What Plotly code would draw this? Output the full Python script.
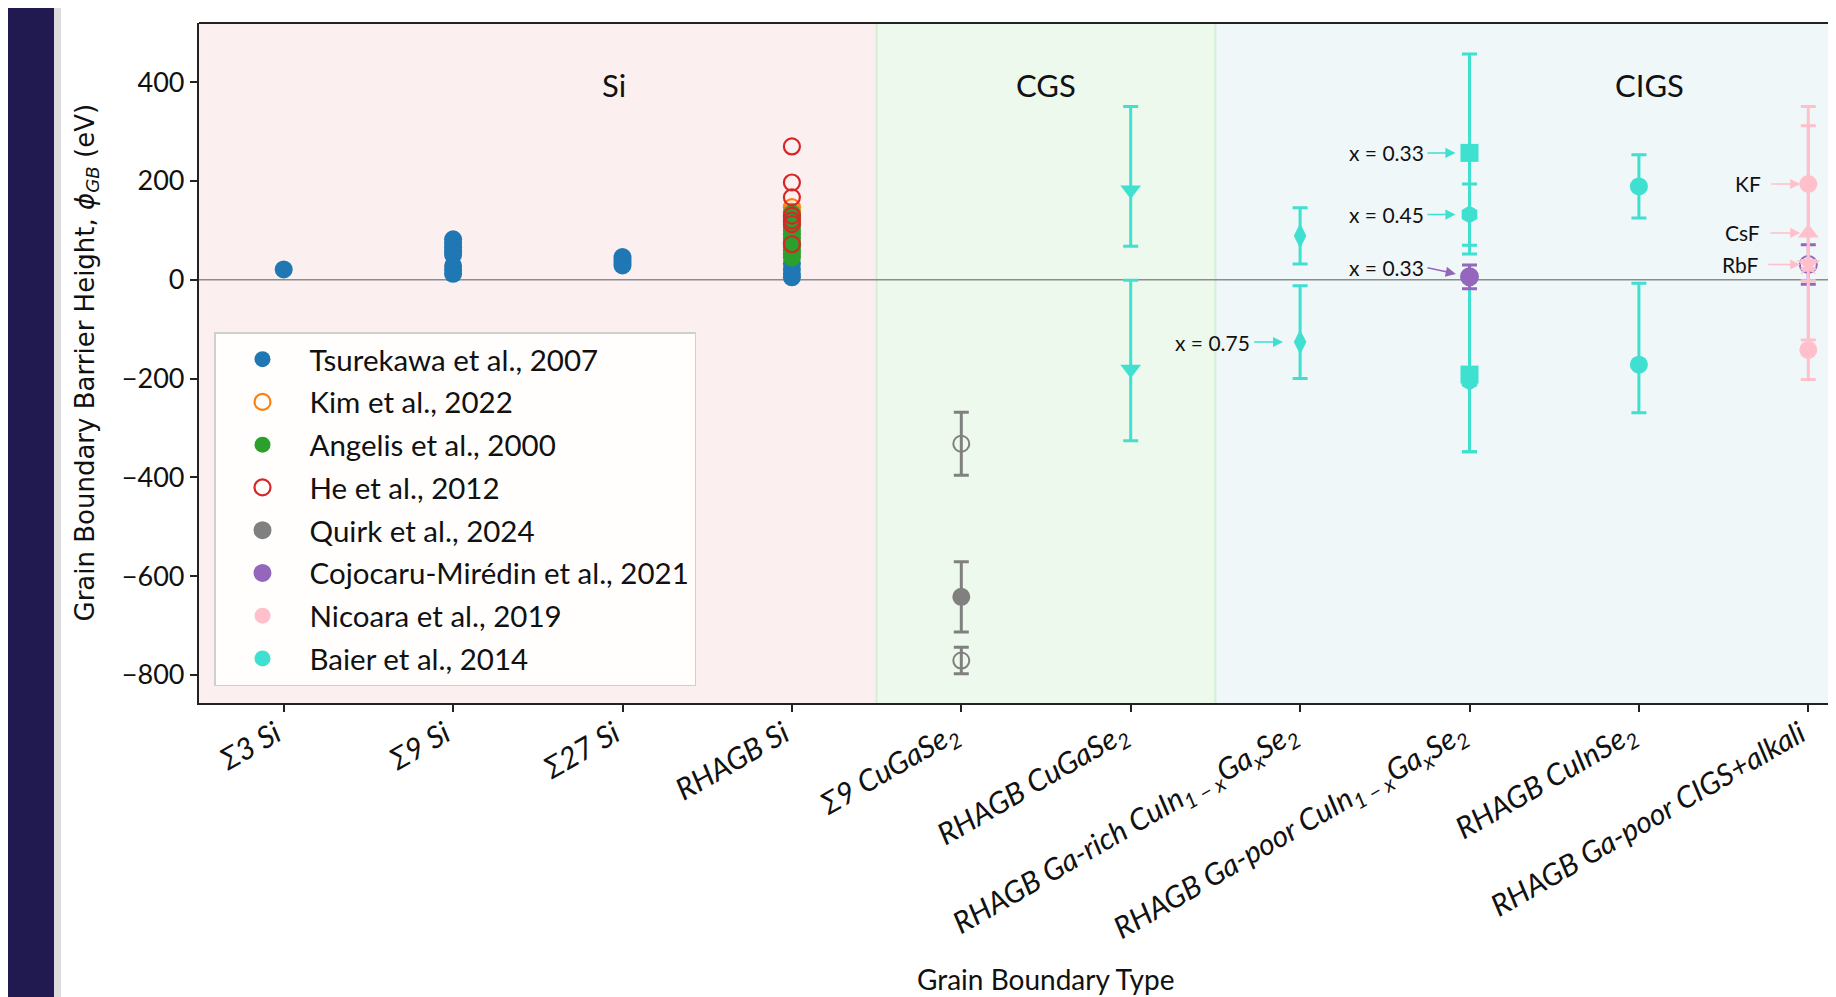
import plotly.graph_objects as go

# ---------------- data ----------------
categories = ["Σ3 Si", "Σ9 Si", "Σ27 Si", "RHAGB Si", "Σ9 CuGaSe2", "RHAGB CuGaSe2",
              "RHAGB Ga-rich CIGS", "RHAGB Ga-poor CIGS", "RHAGB CuInSe2",
              "RHAGB Ga-poor CIGS+alkali"]
tick_labels = ["Σ3 Si", "Σ9 Si", "Σ27 Si", "RHAGB Si", "Σ9 CuGaSe<sub>2</sub>",
               "RHAGB CuGaSe<sub>2</sub>",
               "RHAGB Ga-rich CuIn<sub>1 − x</sub>Ga<sub>x</sub>Se<sub>2</sub>",
               "RHAGB Ga-poor CuIn<sub>1 − x</sub>Ga<sub>x</sub>Se<sub>2</sub>",
               "RHAGB CuInSe<sub>2</sub>", "RHAGB Ga-poor CIGS+alkali"]
y_ticks = [-800, -600, -400, -200, 0, 200, 400]

tsurekawa_cat = ["Σ3 Si"] + ["Σ9 Si"] * 8 + ["Σ27 Si"] * 4 + ["RHAGB Si"] * 4
tsurekawa_val = [21, 82, 75, 66, 58, 50, 28, 20, 12, 46, 40, 34, 29, 33, 22, 12, 5]

kim_cat = ["RHAGB Si"] * 3
kim_val = [147, 138, 128]

angelis_cat = ["RHAGB Si"] * 12
angelis_val = [134, 126, 117, 108, 100, 92, 84, 76, 68, 60, 52, 45]

he_cat = ["RHAGB Si"] * 7
he_val = [270, 197, 167, 130, 120, 113, 72]

quirk_cat = ["Σ9 CuGaSe2"] * 3
quirk_val = [-642, -332, -771]
quirk_err = [71, 64, 27]
quirk_sym = ["circle", "circle-open", "circle-open"]

cojo_cat = ["RHAGB Ga-poor CIGS", "RHAGB Ga-poor CIGS+alkali"]
cojo_val = [6, 31]
cojo_err = [24, 40]
cojo_sym = ["circle", "circle-open"]

nicoara_cat = ["RHAGB Ga-poor CIGS+alkali"] * 4
nicoara_val = [194, 95, 31, -142]
nicoara_err_plus = [157, 217, 8, 140]
nicoara_err_minus = [157, 217, 8, 60]
nicoara_sym = ["circle", "triangle-up", "star", "circle"]

baier_cat = ["RHAGB CuInSe2", "RHAGB CuInSe2", "RHAGB CuGaSe2", "RHAGB CuGaSe2",
             "RHAGB Ga-rich CIGS", "RHAGB Ga-rich CIGS", "RHAGB Ga-poor CIGS",
             "RHAGB Ga-poor CIGS", "RHAGB Ga-poor CIGS", "RHAGB Ga-poor CIGS"]
baier_val = [189, -172, 182, -181, 89, -126, 257, 132, -192, -206]
baier_err_plus = [64, 165, 169, 180, 57, 114, 200, 62, 192, 206]
baier_err_minus = [64, 97, 114, 145, 57, 74, 205, 62, 156, 142]
baier_sym = ["circle", "circle", "triangle-down", "triangle-down", "diamond-tall",
             "diamond-tall", "square", "hexagon", "square", "hexagon"]

ann_cat = ["RHAGB Ga-poor CIGS", "RHAGB Ga-poor CIGS", "RHAGB Ga-poor CIGS",
           "RHAGB Ga-rich CIGS", "RHAGB Ga-poor CIGS+alkali",
           "RHAGB Ga-poor CIGS+alkali", "RHAGB Ga-poor CIGS+alkali"]
ann_val = [257, 132, 6, -126, 194, 95, 31]
ann_text = ["x = 0.33", "x = 0.45", "x = 0.33", "x = 0.75", "KF", "CsF", "RbF"]
ann_color = ["turquoise", "turquoise", "#9467bd", "turquoise", "pink", "pink", "pink"]
ann_dx = [-42, -42, -42, -46, -37, -38, -40]
ann_dy = [0, 0, -9, 0, 0, 0, 0]
ann_standoff = [14, 14, 14, 17, 8, 8, 8]
ann_pad = [3, 3, 3, 3, 9, 9, 9]

region_names = ["Si", "CGS", "CIGS"]
region_start = [-0.5, 3.5, 5.5]
region_end = [3.5, 5.5, 9.5]
region_label_x = [1.95, 4.5, 8.06]
region_colors = ["#fbf0ef", "#edf9ec", "#eff7f9"]

# ---------------- geometry (page body has an 8 px margin) ----------------
OFF = 8
W, H = 1836 - OFF, 997 - OFF
L, T, PB = 199 - OFF, 23 - OFF, 703 - OFF
PW = W - L
PH = PB - T
px_per_cat = 169.4
x_range = [-0.5, -0.5 + PW / px_per_cat]
y_range = [-857, 520]

pos = {c: i for i, c in enumerate(categories)}
FONT = "Lato"

fig = go.Figure()


def add_series(name, cats, vals, color, symbols, rank, size=18, lw=2.2,
               ep=None, em=None, showlegend=True):
    err = None
    if ep is not None:
        err = dict(type="data", symmetric=False, array=ep,
                   arrayminus=em if em is not None else ep,
                   color=color, thickness=3, width=7.5)
    fig.add_trace(go.Scatter(
        x=[pos[c] for c in cats], y=vals, mode="markers", name=name,
        marker=dict(color=color, symbol=symbols, size=size,
                    line=dict(color=color, width=lw)),
        error_y=err, legendrank=rank, legendgroup=name, showlegend=showlegend,
        cliponaxis=False))


COJ = "Cojocaru-Mirédin et al., 2021"
add_series("Tsurekawa et al., 2007", tsurekawa_cat, tsurekawa_val, "#1f77b4",
           "circle", 1, size=18, lw=0)
add_series("Kim et al., 2022", kim_cat, kim_val, "#ff7f0e", "circle-open", 2,
           size=16, lw=2.2)
add_series("Angelis et al., 2000", angelis_cat, angelis_val, "#2ca02c", "circle",
           3, size=18, lw=0)
add_series("He et al., 2012", he_cat, he_val, "#d62728", "circle-open", 4,
           size=16, lw=2.2)
add_series("Quirk et al., 2024", quirk_cat, quirk_val, "#808080", quirk_sym, 5,
           size=16, lw=2, ep=quirk_err)
# Cojocaru point at the alkali category sits beneath the Nicoara bars
add_series(COJ, cojo_cat[1:], cojo_val[1:], "#9467bd", cojo_sym[1:], 6,
           size=17, lw=2, ep=cojo_err[1:], showlegend=False)
add_series("Nicoara et al., 2019", nicoara_cat, nicoara_val, "pink", nicoara_sym,
           7, size=18, lw=0, ep=nicoara_err_plus, em=nicoara_err_minus)
add_series("Baier et al., 2014", baier_cat, baier_val, "turquoise", baier_sym, 8,
           size=18, lw=0, ep=baier_err_plus, em=baier_err_minus)
add_series(COJ, cojo_cat[:1], cojo_val[:1], "#9467bd", cojo_sym[:1], 6,
           size=17, lw=2, ep=cojo_err[:1])

# ---------------- shapes ----------------
def pxx(p):
    return (p - L) / PW


shapes = []
for x0, x1, col in zip(region_start, region_end, region_colors):
    shapes.append(dict(type="rect", xref="x", yref="paper", x0=x0, x1=x1, y0=0,
                       y1=1, fillcolor=col, line=dict(width=0), layer="below"))
for xb in [3.5, 5.5]:
    shapes.append(dict(type="line", xref="x", yref="paper", x0=xb, x1=xb, y0=0,
                       y1=1, line=dict(color="rgba(160,220,160,0.35)", width=2),
                       layer="below"))
shapes.append(dict(type="line", xref="paper", yref="y", x0=0, x1=1, y0=0, y1=0,
                   line=dict(color="#8c8c8c", width=1.6), layer="below"))
shapes.append(dict(type="line", xref="paper", yref="paper", x0=0, x1=1, y0=1,
                   y1=1, line=dict(color="#222222", width=2.2), layer="above"))
# left side dark strip of the screenshot
shapes.append(dict(type="rect", xref="paper", yref="paper", x0=pxx(-20),
                   x1=pxx(54 - OFF), y0=-0.6, y1=1.2, fillcolor="#201a50",
                   line=dict(width=0), layer="above"))
shapes.append(dict(type="rect", xref="paper", yref="paper", x0=pxx(54 - OFF),
                   x1=pxx(61 - OFF), y0=-0.6, y1=1.2, fillcolor="#dcdcdc",
                   line=dict(width=0), layer="above"))

# ---------------- annotations ----------------
annotations = []
for name, xl in zip(region_names, region_label_x):
    annotations.append(dict(x=xl, y=395, xref="x", yref="y", text=name,
                            showarrow=False, xanchor="center", yanchor="middle",
                            font=dict(family=FONT, size=31, color="#111")))
for c, v, t, col, dx, dy, so, bp in zip(ann_cat, ann_val, ann_text, ann_color,
                                        ann_dx, ann_dy, ann_standoff, ann_pad):
    annotations.append(dict(x=pos[c], y=v, xref="x", yref="y", text=t,
                            showarrow=True, ax=dx, ay=dy, axref="pixel",
                            ayref="pixel", xanchor="right", yanchor="middle",
                            arrowhead=2, arrowsize=1.35, arrowwidth=1.5,
                            arrowcolor=col, standoff=so, borderpad=bp,
                            font=dict(family=FONT, size=21, color="#111")))
annotations.append(dict(x=(1046 - OFF - L) / PW, y=(PB - (979 - OFF)) / PH,
                        xref="paper", yref="paper", text="Grain Boundary Type",
                        showarrow=False, xanchor="center", yanchor="middle",
                        font=dict(family=FONT, size=28, color="#111")))
annotations.append(dict(x=(85.5 - OFF - L) / PW, y=0.5, xref="paper", yref="paper",
                        text="Grain Boundary Barrier Height, <i>ϕ<sub>GB</sub></i> (eV)",
                        textangle=-90, showarrow=False, xanchor="center",
                        yanchor="middle",
                        font=dict(family="DejaVu Sans", size=26, color="#111")))

fig.update_layout(
    width=W, height=H,
    margin=dict(l=L, r=0, t=T, b=H - PB, pad=0),
    paper_bgcolor="white", plot_bgcolor="white",
    shapes=shapes, annotations=annotations,
    showlegend=True,
    legend=dict(x=(214 - OFF - L) / PW, y=(PB - (332 - OFF)) / PH, xanchor="left",
                yanchor="top", bgcolor="rgba(255,255,255,0.88)",
                bordercolor="#cfcfcf", borderwidth=1.5,
                font=dict(family=FONT, size=29.5, color="#111"),
                tracegroupgap=1.4, itemwidth=84),
    xaxis=dict(range=x_range, tickmode="array", tickvals=list(range(len(categories))),
               ticktext=tick_labels, tickangle=-30, showgrid=False, zeroline=False,
               showline=True, linecolor="#222222", linewidth=2.2, ticks="outside",
               ticklen=7, tickwidth=2, tickcolor="#222222", ticklabelshift=-8,
               ticklabelstandoff=-7,
               tickfont=dict(family=FONT, size=30, color="#111", style="italic")),
    yaxis=dict(range=y_range, tickmode="array", tickvals=y_ticks, showgrid=False,
               zeroline=False, showline=True, linecolor="#222222", linewidth=2.2,
               ticks="outside", ticklen=7, tickwidth=2, tickcolor="#222222",
               tickfont=dict(family=FONT, size=27, color="#111")),
)

fig.write_html("out.html")
